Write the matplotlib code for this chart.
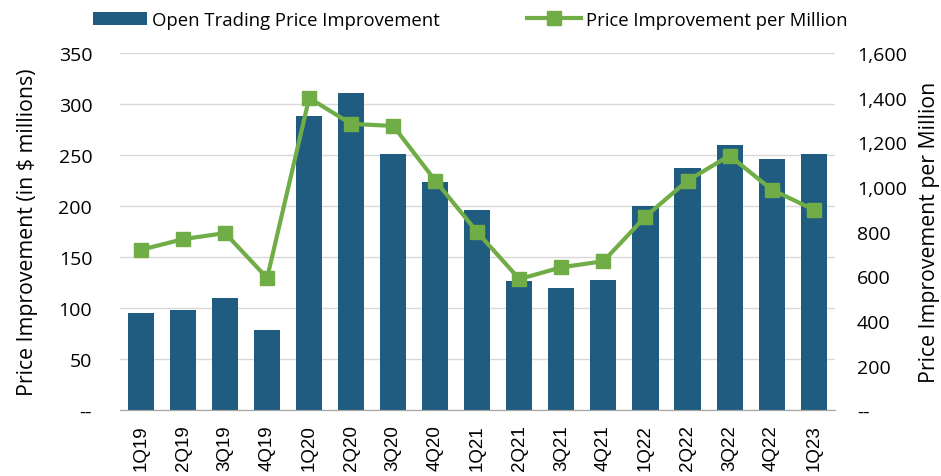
import matplotlib.pyplot as plt
import numpy as np
from matplotlib.ticker import FuncFormatter

quarters = ["1Q19", "2Q19", "3Q19", "4Q19", "1Q20", "2Q20", "3Q20", "4Q20",
            "1Q21", "2Q21", "3Q21", "4Q21", "1Q22", "2Q22", "3Q22", "4Q22", "1Q23"]
price_improvement = [95, 98, 110, 79, 288, 311, 251, 224,
                     196, 127, 120, 128, 200, 237, 260, 246, 251]
per_million = [718, 766, 793, 592, 1398, 1282, 1273, 1028,
               797, 587, 640, 667, 867, 1028, 1140, 988, 898]

bar_color = "#1F5C80"
line_color = "#70AD47"
label_font = "Open Sans"

fig = plt.figure(figsize=(9.41, 4.77), dpi=100)
ax = fig.add_axes([0.1275, 0.138, 0.7595, 0.749])
ax2 = ax.twinx()

x = np.arange(len(quarters))
ax.bar(x, price_improvement, width=0.62, color=bar_color, zorder=2,
       label="Open Trading Price Improvement")
ax2.plot(x, per_million, color=line_color, lw=3, marker="s", markersize=10,
         zorder=3, label="Price Improvement per Million")

ax.set_xlim(-0.5, len(quarters) - 0.5)
ax.set_ylim(0, 350)
ax.set_yticks(np.arange(0, 351, 50))
ax2.set_ylim(0, 1600)
ax2.set_yticks(np.arange(0, 1601, 200))

# zero shown as a dash pair, like the accounting format
fmt = FuncFormatter(lambda v, p: "--" if v == 0 else f"{v:,.0f}")
ax.yaxis.set_major_formatter(fmt)
ax2.yaxis.set_major_formatter(fmt)

ax.grid(axis="y", color="#D9D9D9", lw=1, zorder=0)
ax.set_axisbelow(True)
for a in (ax, ax2):
    for s in ("top", "left", "right"):
        a.spines[s].set_visible(False)
    a.spines["bottom"].set_color("#A6A6A6")
    a.tick_params(length=0)

ax.set_xticks(x)
ax.set_xticklabels(quarters, rotation=90, fontsize=13.5, family="Liberation Sans")
ax.tick_params(axis="x", pad=10)
for lbl in ax.get_yticklabels() + ax2.get_yticklabels():
    lbl.set_family(label_font)
    lbl.set_fontsize(14)
ax.tick_params(axis="y", pad=20)
ax2.tick_params(axis="y", pad=16)

ax.set_ylabel("Price Improvement (in $ millions)", fontsize=15.3, family=label_font, labelpad=15)
ax2.set_ylabel("Price Improvement per Million", fontsize=15.3, family=label_font, labelpad=9)

h1, l1 = ax.get_legend_handles_labels()
h2, l2 = ax2.get_legend_handles_labels()
fig.legend(h1 + h2, l1 + l2, loc="center", bbox_to_anchor=(0.5, 0.957), ncol=2,
           frameon=False, prop={"family": label_font, "size": 13.3},
           handlelength=2.9, handletextpad=0.3, columnspacing=4.7)

fig.savefig("out.png", dpi=100)
